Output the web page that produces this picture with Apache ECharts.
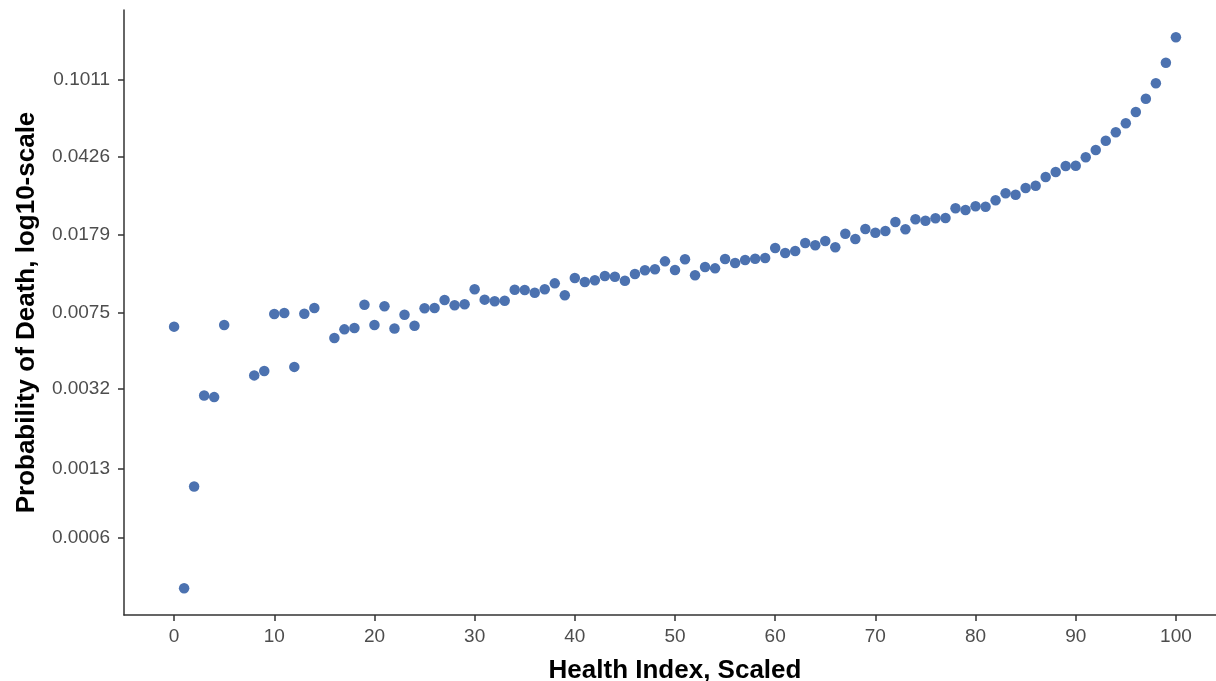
<!DOCTYPE html>
<html>
<head>
<meta charset="utf-8">
<script src="https://cdn.jsdelivr.net/npm/echarts@6/dist/echarts.min.js"></script>
<style>
  html, body { margin: 0; padding: 0; background: #ffffff; overflow: hidden; width: 1216px; height: 681px; }
  #chart { width: 1216px; height: 681px; overflow: hidden; }
</style>
</head>
<body>
<div id="chart"></div>
<script>
const healthIndex = [0, 1, 2, 3, 4, 5, 8, 9, 10, 11, 12, 13, 14,
  16, 17, 18, 19, 20, 21, 22, 23, 24, 25, 26, 27, 28, 29, 30,
  31, 32, 33, 34, 35, 36, 37, 38, 39, 40, 41, 42, 43, 44, 45,
  46, 47, 48, 49, 50, 51, 52, 53, 54, 55, 56, 57, 58, 59, 60,
  61, 62, 63, 64, 65, 66, 67, 68, 69, 70, 71, 72, 73, 74, 75,
  76, 77, 78, 79, 80, 81, 82, 83, 84, 85, 86, 87, 88, 89, 90,
  91, 92, 93, 94, 95, 96, 97, 98, 99, 100];

const probDeath = [0.00640, 0.000343, 0.00107, 0.00296, 0.00291, 0.00652, 0.00371, 0.00390, 0.00737, 0.00746, 0.00408, 0.00740, 0.00788,
  0.00564, 0.00621, 0.00631, 0.00818, 0.00652, 0.00804, 0.00627, 0.00731, 0.00646, 0.00786, 0.00788, 0.00863, 0.00813, 0.00822, 0.00972,
  0.00866, 0.00850, 0.00856, 0.00968, 0.00965, 0.00936, 0.00972, 0.01039, 0.00909, 0.01103, 0.01055, 0.01075, 0.01128, 0.01119, 0.01070,
  0.01153, 0.01202, 0.01216, 0.01329, 0.01206, 0.01360, 0.01137, 0.01248, 0.01229, 0.01364, 0.01305, 0.01349, 0.01369, 0.01380, 0.01543,
  0.01459, 0.01492, 0.01632, 0.01590, 0.01669, 0.01555, 0.01811, 0.01707, 0.01909, 0.01830, 0.01866, 0.02064, 0.01902, 0.02127, 0.02094,
  0.02151, 0.02158, 0.02406, 0.02360, 0.02460, 0.02449, 0.02632, 0.02846, 0.02802, 0.03019, 0.03098, 0.03414, 0.03611, 0.03862, 0.03870,
  0.04257, 0.04620, 0.05127, 0.05631, 0.06228, 0.07066, 0.08199, 0.09743, 0.1227, 0.1630];

const yTickValues = [0.0006, 0.0013, 0.0032, 0.0075, 0.0179, 0.0426, 0.1011];
const yTickLabels = ['0.0006', '0.0013', '0.0032', '0.0075', '0.0179', '0.0426', '0.1011'];
const xTickValues = [0, 10, 20, 30, 40, 50, 60, 70, 80, 90, 100];

const xTitle = 'Health Index, Scaled';
const yTitle = 'Probability of Death, log10-scale';

const points = healthIndex.map((x, i) => [x, probDeath[i]]);

const FONT = '"Liberation Sans", Arial, Helvetica, sans-serif';
const chart = echarts.init(document.getElementById('chart'), null, { renderer: 'canvas', width: 1216, height: 681 });

function yLabel(v) {
  let best = 0, bd = Infinity;
  yTickValues.forEach((t, i) => {
    const d = Math.abs(Math.log10(t) - Math.log10(v));
    if (d < bd) { bd = d; best = i; }
  });
  return yTickLabels[best];
}

chart.setOption({
  animation: false,
  backgroundColor: '#ffffff',
  grid: { left: 124, top: 10, width: 1102, height: 605, containLabel: false, outerBoundsMode: 'none' },
  xAxis: {
    type: 'value',
    min: -5,
    max: 105,
    name: xTitle,
    nameLocation: 'middle',
    nameGap: 43,
    nameTextStyle: { fontFamily: FONT, fontSize: 26, fontWeight: 'bold', color: '#000000' },
    axisLine: { show: true, onZero: false, lineStyle: { color: '#333333', width: 1.5 } },
    axisTick: { show: true, length: 6, lineStyle: { color: '#333333', width: 1.5 }, customValues: xTickValues },
    axisLabel: { show: true, margin: 12, fontFamily: FONT, fontSize: 19, color: '#4D4D4D', customValues: xTickValues },
    splitLine: { show: false }
  },
  yAxis: {
    type: 'log',
    logBase: 10,
    min: 0.0002542,
    max: 0.2212,
    name: yTitle,
    nameLocation: 'middle',
    nameGap: 84,
    nameTextStyle: { fontFamily: FONT, fontSize: 26, fontWeight: 'bold', color: '#000000' },
    axisLine: { show: true, onZero: false, lineStyle: { color: '#333333', width: 1.5 } },
    axisTick: { show: true, length: 6, lineStyle: { color: '#333333', width: 1.5 }, customValues: yTickValues },
    axisLabel: { show: true, margin: 14, fontFamily: FONT, fontSize: 19, color: '#4D4D4D', customValues: yTickValues, formatter: yLabel },
    splitLine: { show: false }
  },
  series: [{
    type: 'scatter',
    data: points,
    symbol: 'circle',
    symbolSize: 10.5,
    itemStyle: { color: '#4C72B0', opacity: 1 },
    emphasis: { disabled: true }
  }]
});
</script>
</body>
</html>
